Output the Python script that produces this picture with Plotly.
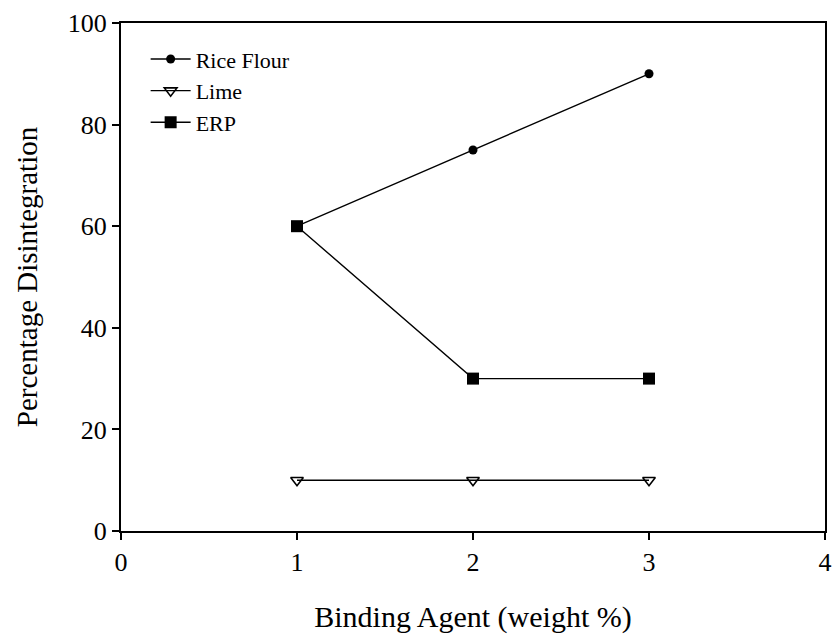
import plotly.graph_objects as go

x_vals = [1, 2, 3]
rice_flour = [60, 75, 90]
lime = [10, 10, 10]
erp = [60, 30, 30]
x_ticks = [0, 1, 2, 3, 4]
y_ticks = [0, 20, 40, 60, 80, 100]

fig = go.Figure()
fig.add_trace(go.Scatter(x=x_vals, y=rice_flour, name="Rice Flour", mode="lines+markers",
                         line=dict(color="black", width=1.4),
                         marker=dict(symbol="circle", size=9, color="black")))
fig.add_trace(go.Scatter(x=x_vals, y=lime, name="Lime", mode="lines+markers",
                         line=dict(color="black", width=1.4),
                         marker=dict(symbol="triangle-down-open", size=11, color="black",
                                     line=dict(width=1.6))))
fig.add_trace(go.Scatter(x=x_vals, y=erp, name="ERP", mode="lines+markers",
                         line=dict(color="black", width=1.4),
                         marker=dict(symbol="square", size=12, color="black")))

axis_common = dict(showgrid=False, zeroline=False, showline=True, linecolor="black",
                   linewidth=2, mirror=True, ticks="outside", ticklen=7,
                   tickcolor="black", tickwidth=1.8, automargin=False,
                   tickfont=dict(family="Liberation Serif", size=26, color="black"))

fig.update_layout(
    width=832, height=636,
    margin=dict(l=121, r=7, t=23, b=105),
    paper_bgcolor="white", plot_bgcolor="white",
    font=dict(family="Liberation Serif", color="black"),
    legend=dict(x=0.035, y=0.97, xanchor="left", yanchor="top",
                font=dict(family="Liberation Serif", size=22, color="black"),
                bgcolor="rgba(0,0,0,0)", tracegroupgap=0, itemwidth=40),
    xaxis=dict(range=[0, 4], tickvals=x_ticks,
               title=dict(text="Binding Agent (weight %)", font=dict(size=30), standoff=30),
               **axis_common),
    yaxis=dict(range=[0, 100], tickvals=y_ticks,
               title=dict(text="Percentage Disintegration", font=dict(size=29), standoff=22),
               **axis_common),
)

fig.write_html("out.html",
               config={"displayModeBar": False},
               post_script="document.body.style.margin='0';"
                           "document.documentElement.style.overflow='hidden';")
